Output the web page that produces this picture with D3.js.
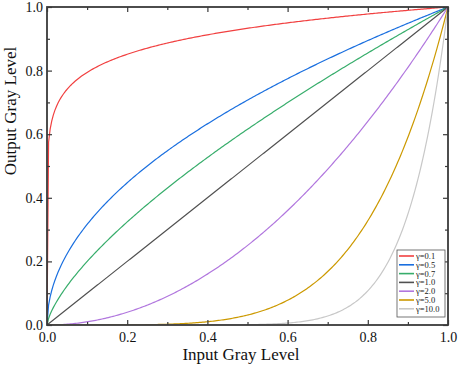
<!DOCTYPE html>
<html>
<head>
<meta charset="utf-8">
<script src="https://cdn.jsdelivr.net/npm/d3@7"></script>
<style>
  html, body { margin: 0; padding: 0; background: #fff; }
  svg text { font-family: "Liberation Serif", "Times New Roman", serif; }
</style>
</head>
<body>
<div id="chart"></div>
<script>
const gammas = [0.1, 0.5, 0.7, 1.0, 2.0, 5.0, 10.0];
const gammaLabels = ['γ=0.1', 'γ=0.5', 'γ=0.7', 'γ=1.0', 'γ=2.0', 'γ=5.0', 'γ=10.0'];
const seriesColors = ['#f14040', '#1a6fdf', '#37ad6b', '#515151', '#b177de', '#cc9900', '#c8c8c8'];
const majorTicks = [0, 0.2, 0.4, 0.6, 0.8, 1.0];
const minorTicks = [0.1, 0.3, 0.5, 0.7, 0.9];
const grayLevels = 256;

const width = 458, height = 367;
const margin = { top: 7, right: 10, bottom: 42, left: 47 };
const iw = width - margin.left - margin.right;
const ih = height - margin.top - margin.bottom;

const svg = d3.select('#chart').append('svg')
  .attr('width', width).attr('height', height);

const x = d3.scaleLinear().domain([0, 1]).range([0, iw]);
const y = d3.scaleLinear().domain([0, 1]).range([ih, 0]);

const g = svg.append('g').attr('transform', `translate(${margin.left},${margin.top})`);

// normalised input gray levels 0..255 -> 0..1
const xs = d3.range(grayLevels).map(i => i / (grayLevels - 1));

const line = d3.line().x(d => x(d[0])).y(d => y(d[1]));

g.append('defs').append('clipPath').attr('id', 'clip')
  .append('rect').attr('width', iw).attr('height', ih);

const curves = g.append('g').attr('clip-path', 'url(#clip)');
gammas.forEach((gm, i) => {
  curves.append('path')
    .attr('d', line(xs.map(v => [v, Math.pow(v, gm)])))
    .attr('fill', 'none')
    .attr('stroke', seriesColors[i])
    .attr('stroke-width', 1.2);
});

// frame
g.append('rect').attr('width', iw).attr('height', ih)
  .attr('fill', 'none').attr('stroke', '#3a3a3a').attr('stroke-width', 1.8);

const tickCol = '#3a3a3a';
const noDomain = sel => sel.select('.domain').remove();

// bottom / left ticks with labels (pointing inward)
const bAxis = g.append('g').attr('transform', `translate(0,${ih})`)
  .call(d3.axisBottom(x).tickValues(majorTicks).tickSize(-5).tickFormat(d3.format('.1f')));
noDomain(bAxis);
bAxis.selectAll('text').attr('y', 7);
noDomain(g.append('g').attr('transform', `translate(0,${ih})`)
  .call(d3.axisBottom(x).tickValues(minorTicks).tickSize(-3).tickFormat('')));

const lAxis = g.append('g')
  .call(d3.axisLeft(y).tickValues(majorTicks).tickSize(-5).tickFormat(d3.format('.1f')));
noDomain(lAxis);
lAxis.selectAll('text').attr('x', -4);
noDomain(g.append('g').call(d3.axisLeft(y).tickValues(minorTicks).tickSize(-3).tickFormat('')));

// top/right ticks
noDomain(g.append('g').call(d3.axisTop(x).tickValues(majorTicks).tickSize(-5).tickFormat('')));
noDomain(g.append('g').call(d3.axisTop(x).tickValues(minorTicks).tickSize(-3).tickFormat('')));
noDomain(g.append('g').attr('transform', `translate(${iw},0)`)
  .call(d3.axisRight(y).tickValues(majorTicks).tickSize(-5).tickFormat('')));
noDomain(g.append('g').attr('transform', `translate(${iw},0)`)
  .call(d3.axisRight(y).tickValues(minorTicks).tickSize(-3).tickFormat('')));

g.selectAll('.tick line').attr('stroke', tickCol).attr('stroke-width', 1.2);
g.selectAll('.tick text').attr('fill', '#111').style('font-size', '14px');

// axis titles
svg.append('text')
  .attr('x', 241).attr('y', 360)
  .attr('text-anchor', 'middle').style('font-size', '17px').attr('fill', '#111')
  .text('Input Gray Level');
svg.append('text')
  .attr('transform', 'translate(16,111) rotate(-90)')
  .attr('text-anchor', 'middle').style('font-size', '17px').attr('fill', '#111')
  .text('Output Gray Level');

// legend
const lg = svg.append('g').attr('transform', 'translate(397,250)');
lg.append('rect').attr('width', 48).attr('height', 67)
  .attr('fill', '#fff').attr('stroke', '#555').attr('stroke-width', 0.8);
gammaLabels.forEach((lab, i) => {
  const yy = 6 + i * 8.8;
  lg.append('line').attr('x1', 2).attr('x2', 17).attr('y1', yy).attr('y2', yy)
    .attr('stroke', seriesColors[i]).attr('stroke-width', 1.6);
  lg.append('text').attr('x', 19).attr('y', yy + 3)
    .style('font-size', '8.5px').attr('fill', '#222').text(lab);
});
</script>
</body>
</html>
